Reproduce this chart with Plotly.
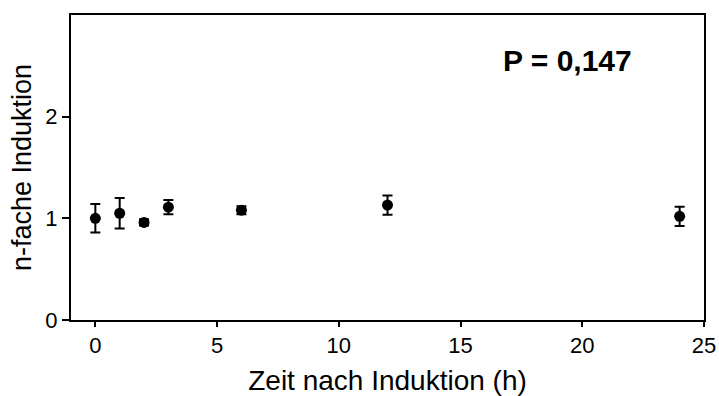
import plotly.graph_objects as go

time_h = [0, 1, 2, 3, 6, 12, 24]
fold_induction = [1.00, 1.05, 0.96, 1.11, 1.08, 1.13, 1.02]
sem = [0.14, 0.15, 0.03, 0.07, 0.04, 0.095, 0.095]

x_ticks = [0, 5, 10, 15, 20, 25]
y_ticks = [0, 1, 2]
p_label = "P = 0,147"

FONT = "Liberation Sans, Arial, sans-serif"

fig = go.Figure()
fig.add_trace(go.Scatter(
    x=time_h, y=fold_induction, mode="markers",
    marker=dict(color="black", size=11),
    error_y=dict(type="data", array=sem, visible=True, color="black",
                 thickness=2, width=5),
    showlegend=False,
))

fig.add_annotation(
    x=0.784, y=0.851, xref="paper", yref="paper",
    text="<b>" + p_label + "</b>", showarrow=False,
    font=dict(family=FONT, size=30, color="black"),
    xanchor="center", yanchor="middle",
)

fig.update_layout(
    width=719, height=396,
    margin=dict(l=71, r=15, t=15, b=76),
    paper_bgcolor="white", plot_bgcolor="white",
    font=dict(family=FONT, color="black"),
)
fig.update_xaxes(
    range=[-1, 25], tickvals=x_ticks, ticktext=[str(v) for v in x_ticks],
    showline=True, linecolor="black", linewidth=2, mirror=True,
    ticks="outside", ticklen=5, tickwidth=2, tickcolor="black",
    showgrid=False, zeroline=False, automargin=False,
    tickfont=dict(size=22, family=FONT, color="black"),
    title=dict(text="Zeit nach Induktion (h)", font=dict(size=28, family=FONT, color="black"), standoff=14),
)
fig.update_yaxes(
    range=[0, 3], tickvals=y_ticks, ticktext=[str(v) for v in y_ticks],
    showline=True, linecolor="black", linewidth=2, mirror=True,
    ticks="outside", ticklen=7, tickwidth=2, tickcolor="black",
    showgrid=False, zeroline=False, automargin=False,
    tickfont=dict(size=22, family=FONT, color="black"),
    title=dict(text="n-fache Induktion", font=dict(size=27, family=FONT, color="black"), standoff=6),
)

fig.write_html("out.html")
